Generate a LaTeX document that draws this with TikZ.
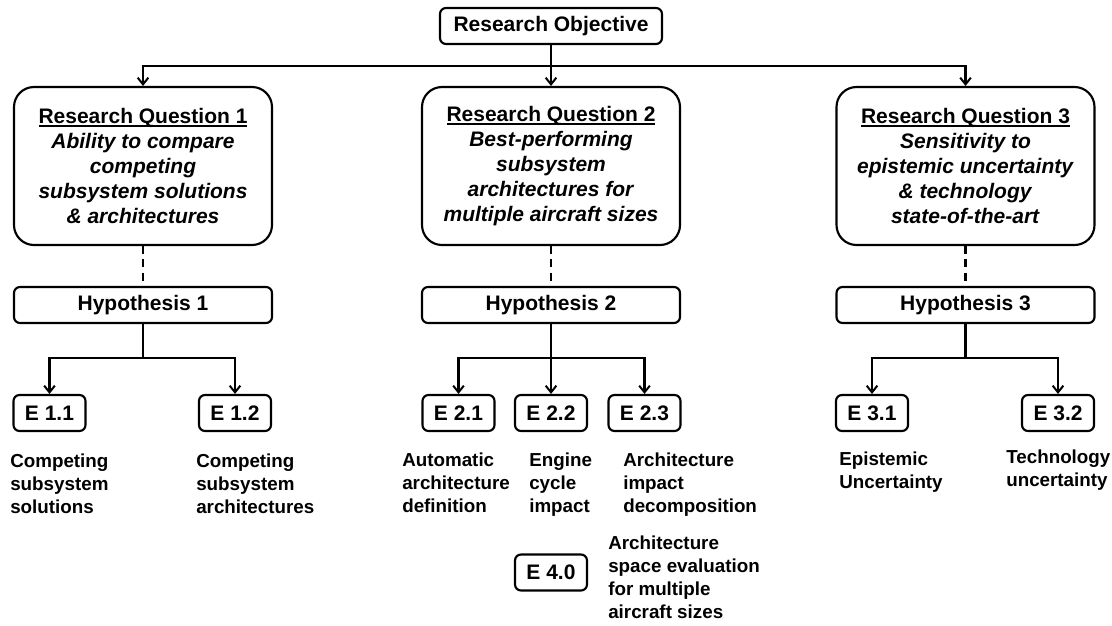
\documentclass[tikz,border=0pt]{standalone}
\usepackage{fontspec}
\setmainfont{Liberation Sans}
\usetikzlibrary{arrows.meta}
% underline set close to the baseline
\newcommand\titleul[1]{\setbox0\hbox{#1}\rlap{\rule[-2pt]{\wd0}{1.1pt}}\box0}
\begin{document}
\begin{tikzpicture}[x=0.75pt,y=-0.75pt,
  bigfont/.style={font=\fontsize{15.75}{18.6}\selectfont\bfseries},
  box/.style={draw, line width=1.6pt, inner sep=0pt, align=center, bigfont},
  objbox/.style={box, rounded corners=4.5pt, minimum width=166.5pt, minimum height=27pt},
  qbox/.style={box, rounded corners=15pt, minimum width=193.5pt, minimum height=118.5pt},
  hypbox/.style={box, rounded corners=4.5pt, minimum width=193.5pt, minimum height=27pt},
  ebox/.style={box, rounded corners=4.5pt, minimum width=54pt, minimum height=27pt},
  lbl/.style={anchor=base west, align=left, inner sep=0pt,
    font=\fontsize{14.1}{17.25}\selectfont\bfseries},
  link/.style={line width=1.6pt},
  arr/.style={link, -{Straight Barb[length=5pt,width=8pt,line width=1.5pt]}},
  dashlink/.style={link, dash pattern=on 6pt off 4pt},
]
\useasboundingbox (0,0) rectangle (1112,625);

% objective
\node[objbox] (ro) at (551,26) {Research Objective};

% research questions
\node[qbox] (rq1) at (143,166) {\titleul{Research Question 1}\\
  \textit{Ability to compare}\\ \textit{competing}\\
  \textit{subsystem solutions}\\ \textit{\& architectures}};
\node[qbox] (rq2) at (551,166) {\titleul{Research Question 2}\\
  \textit{Best-performing}\\ \textit{subsystem}\\
  \textit{architectures for}\\ \textit{multiple aircraft sizes}};
\node[qbox] (rq3) at (965.5,166) {\titleul{Research Question 3}\\
  \textit{Sensitivity to}\\ \textit{epistemic uncertainty}\\
  \textit{\& technology}\\ \textit{state-of-the-art}};

% hypotheses
\node[hypbox] (h1) at (143,305) {Hypothesis 1};
\node[hypbox] (h2) at (551,305) {Hypothesis 2};
\node[hypbox] (h3) at (965.5,305) {Hypothesis 3};

% experiments
\node[ebox] (e11) at (49.5,413) {E 1.1};
\node[ebox] (e12) at (235,413) {E 1.2};
\node[ebox] (e21) at (458.5,413) {E 2.1};
\node[ebox] (e22) at (551,413) {E 2.2};
\node[ebox] (e23) at (644.5,413) {E 2.3};
\node[ebox] (e31) at (872,413) {E 3.1};
\node[ebox] (e32) at (1058,413) {E 3.2};
\node[ebox] (e40) at (551,572.5) {E 4.0};

% experiment descriptions (anchored at the baseline of the last line)
\node[lbl] (t11) at (10,513) {Competing\\subsystem\\solutions};
\node[lbl] (t12) at (196,513) {Competing\\subsystem\\architectures};
\node[lbl] (t21) at (402,512) {Automatic\\architecture\\definition};
\node[lbl] (t22) at (529,512) {Engine\\cycle\\impact};
\node[lbl] (t23) at (623,512) {Architecture\\impact\\decomposition};
\node[lbl] (t31) at (839,488) {Epistemic\\Uncertainty};
\node[lbl] (t32) at (1006,486) {Technology\\uncertainty};
\node[lbl] (t40) at (608,618) {Architecture\\space evaluation\\for multiple\\aircraft sizes};

% objective to questions
\coordinate (j0) at (551,66);
\draw[link] (ro.south) -- (j0);
\draw[arr] (j0) -- (rq2.north);
\draw[arr] (j0) -| (rq1.north);
\draw[arr] (j0) -| (rq3.north);

% questions to hypotheses
\draw[dashlink] (rq1.south) -- (h1.north);
\draw[dashlink] (rq2.south) -- (h2.north);
\draw[dashlink] (rq3.south) -- (h3.north);

% hypotheses to experiments
\coordinate (b1) at (143,358);
\coordinate (b2) at (551,358);
\coordinate (b3) at (965.5,358);
\draw[link] (h1.south) -- (b1);
\draw[arr] (b1) -| (e11.north);
\draw[arr] (b1) -| (e12.north);
\draw[link] (h2.south) -- (b2);
\draw[arr] (b2) -| (e21.north);
\draw[arr] (b2) -- (e22.north);
\draw[arr] (b2) -| (e23.north);
\draw[link] (h3.south) -- (b3);
\draw[arr] (b3) -| (e31.north);
\draw[arr] (b3) -| (e32.north);
\end{tikzpicture}
\end{document}
